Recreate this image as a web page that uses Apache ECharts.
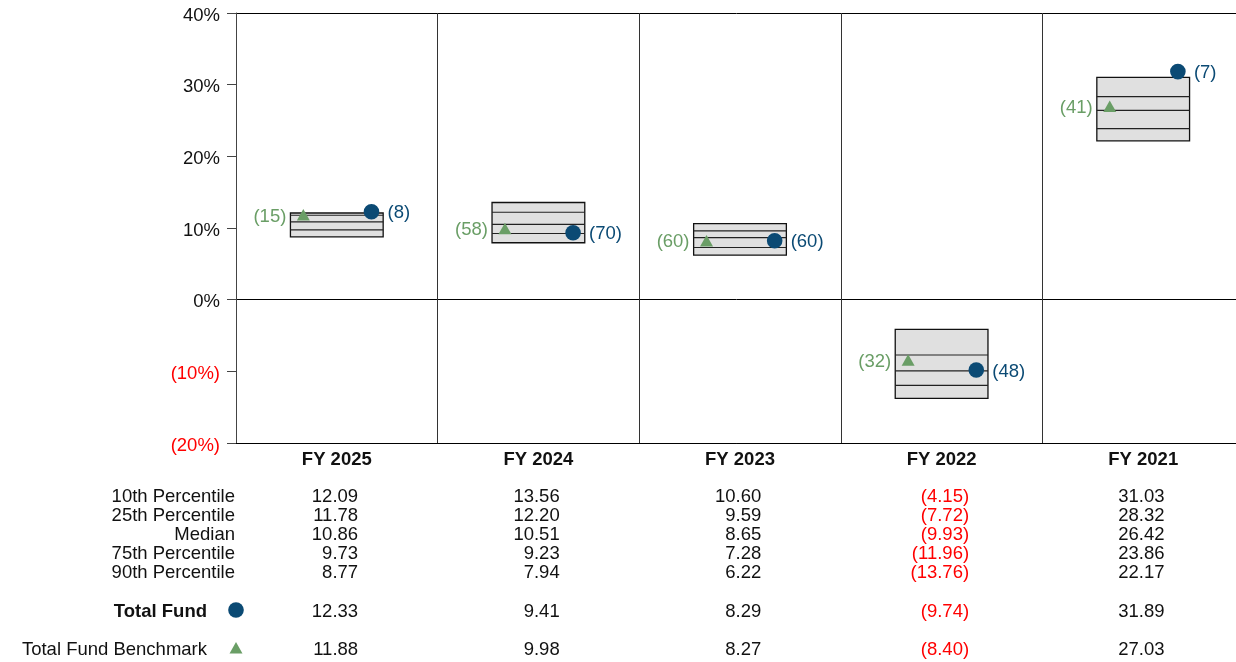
<!DOCTYPE html>
<html><head><meta charset="utf-8">
<script src="https://cdn.jsdelivr.net/npm/echarts@6/dist/echarts.min.js"></script>
<style>html,body{margin:0;padding:0;background:#fff}#c{width:1236px;height:662px}</style>
</head><body><div id="c"></div>
<script>
const categories = ['FY 2025','FY 2024','FY 2023','FY 2022','FY 2021'];
const p10 = [12.09, 13.56, 10.60, -4.15, 31.03];
const p25 = [11.78, 12.20, 9.59, -7.72, 28.32];
const median = [10.86, 10.51, 8.65, -9.93, 26.42];
const p75 = [9.73, 9.23, 7.28, -11.96, 23.86];
const p90 = [8.77, 7.94, 6.22, -13.76, 22.17];
const totalFund = [12.33, 9.41, 8.29, -9.74, 31.89];
const benchmark = [11.88, 9.98, 8.27, -8.40, 27.03];
const fundRank = [8, 70, 60, 48, 7];
const benchRank = [15, 58, 60, 32, 41];
const rowLabels = ['10th Percentile','25th Percentile','Median','75th Percentile','90th Percentile'];
const yMin = -20, yMax = 40, yStep = 10;

const FONT = "'Liberation Sans', Arial, Helvetica, sans-serif";
const FS = 18.5;
const FUND = '#0b4a74';
const BENCH = '#6a9e66';
const RED = '#ff0000';
const TY = 1.5; // text baseline nudge

function setText(o){
  if (o.align) o.textAlign = o.align;
  if (o.verticalAlign) o.textVerticalAlign = o.verticalAlign;
  return o;
}

const option = {
  animation: false,
  backgroundColor: '#fff',
  grid: { left: 236, width: 1008, top: 13, bottom: 219, outerBoundsMode: 'none', containLabel: false },
  xAxis: {
    type: 'category', data: categories, boundaryGap: true,
    axisLine: { onZero: false, lineStyle: { color: '#000', width: 1 } },
    axisTick: { show: false },
    axisLabel: { fontFamily: FONT, fontSize: FS, fontWeight: 'bold', color: '#111', margin: 7 },
    splitLine: { show: true, interval: 0, lineStyle: { color: '#333', width: 1 } }
  },
  yAxis: {
    type: 'value', min: yMin, max: yMax, interval: yStep,
    axisLine: { show: true, lineStyle: { color: '#444', width: 1 } },
    axisTick: { show: true, length: 9, lineStyle: { color: '#444' } },
    axisLabel: {
      margin: 16,
      formatter: v => v < 0 ? '{n|(' + (-v) + '%)}' : '{p|' + v + '%}',
      rich: {
        n: { color: RED, fontFamily: FONT, fontSize: FS, padding: [5, 0, 0, 0] },
        p: { color: '#111', fontFamily: FONT, fontSize: FS, padding: [5, 0, 0, 0] }
      }
    },
    splitLine: { show: true, lineStyle: { color: ['#000','rgba(0,0,0,0)','#000','rgba(0,0,0,0)','rgba(0,0,0,0)','rgba(0,0,0,0)','#000'], width: 1 } }
  },
  series: [
    {
      type: 'custom', name: 'Range', z: 2,
      encode: { x: 0, y: [1, 5] },
      data: categories.map((c, i) => [i, p10[i], p25[i], median[i], p75[i], p90[i]]),
      renderItem: (params, api) => {
        const i = api.value(0);
        const band = api.size([1, 0])[0];
        const w = band * 0.46;
        const top = api.coord([i, api.value(1)]);
        const bot = api.coord([i, api.value(5)]);
        const x0 = top[0] - w / 2;
        const children = [{
          type: 'rect',
          shape: { x: x0, y: top[1], width: w, height: bot[1] - top[1] },
          style: { fill: '#e0e0e0', stroke: '#111', lineWidth: 1.3 }
        }];
        [2, 3, 4].forEach(k => {
          const y = api.coord([i, api.value(k)])[1];
          children.push({ type: 'line', shape: { x1: x0, y1: y, x2: x0 + w, y2: y },
            style: { stroke: '#222', lineWidth: 1.2 } });
        });
        return { type: 'group', children };
      }
    },
    {
      type: 'custom', name: 'Total Fund Benchmark', z: 3,
      encode: { x: 0, y: 1 },
      data: categories.map((c, i) => [i, benchmark[i], benchRank[i]]),
      renderItem: (params, api) => {
        const i = api.value(0);
        const band = api.size([1, 0])[0];
        const p = api.coord([i, api.value(1)]);
        const cx = p[0] - band * 0.166, cy = p[1] + 0.5;
        return { type: 'group', children: [
          { type: 'polygon', shape: { points: [[cx, cy - 6], [cx - 6.5, cy + 5.5], [cx + 6.5, cy + 5.5]] },
            style: { fill: BENCH } },
          { type: 'text', style: setText({ text: '(' + api.value(2) + ')', x: cx - 17, y: cy + TY,
            align: 'right', verticalAlign: 'middle', fill: BENCH, fontFamily: FONT, fontSize: FS }) }
        ] };
      }
    },
    {
      type: 'custom', name: 'Total Fund', z: 4,
      encode: { x: 0, y: 1 },
      data: categories.map((c, i) => [i, totalFund[i], fundRank[i]]),
      renderItem: (params, api) => {
        const i = api.value(0);
        const band = api.size([1, 0])[0];
        const p = api.coord([i, api.value(1)]);
        const cx = p[0] + band * 0.172, cy = p[1] + 0.5;
        return { type: 'group', children: [
          { type: 'circle', shape: { cx, cy, r: 7.8 }, style: { fill: FUND } },
          { type: 'text', style: setText({ text: '(' + api.value(2) + ')', x: cx + 16, y: cy + TY,
            align: 'left', verticalAlign: 'middle', fill: FUND, fontFamily: FONT, fontSize: FS }) }
        ] };
      }
    }
  ]
};

const chart = echarts.init(document.getElementById('c'), null, { renderer: 'canvas' });
chart.setOption(option);

// table beneath the chart
const yBase = chart.convertToPixel({ yAxisIndex: 0 }, yMin);
const gridLeft = 236;
const rowOffsets = [52, 71, 90, 109, 128, 167, 205];
const rowsData = [p10, p25, median, p75, p90, totalFund, benchmark];
const elements = [];
rowLabels.forEach((lab, r) => {
  elements.push({ type: 'text', x: gridLeft - 1, y: yBase + rowOffsets[r] + TY,
    style: setText({ text: lab, align: 'right', verticalAlign: 'middle', fill: '#111', fontFamily: FONT, fontSize: FS }) });
});
elements.push({ type: 'text', x: gridLeft - 29, y: yBase + rowOffsets[5] + TY,
  style: setText({ text: 'Total Fund', align: 'right', verticalAlign: 'middle', fill: '#111', fontFamily: FONT, fontSize: FS, fontWeight: 'bold' }) });
elements.push({ type: 'circle', shape: { cx: gridLeft, cy: yBase + rowOffsets[5], r: 7.8 }, style: { fill: FUND } });
elements.push({ type: 'text', x: gridLeft - 29, y: yBase + rowOffsets[6] + TY,
  style: setText({ text: 'Total Fund Benchmark', align: 'right', verticalAlign: 'middle', fill: '#111', fontFamily: FONT, fontSize: FS }) });
elements.push({ type: 'polygon', shape: { points: [[gridLeft, yBase + rowOffsets[6] - 6], [gridLeft - 6.5, yBase + rowOffsets[6] + 5.5], [gridLeft + 6.5, yBase + rowOffsets[6] + 5.5]] }, style: { fill: BENCH } });

const PAREN_W = 6.2; // width of ")" at FS, for accounting-style alignment
categories.forEach((c, i) => {
  const cx = chart.convertToPixel({ xAxisIndex: 0 }, i);
  rowsData.forEach((arr, r) => {
    const v = arr[i];
    const neg = v < 0;
    elements.push({ type: 'text', x: cx + 27.5 - (neg ? 0 : PAREN_W), y: yBase + rowOffsets[r] + TY,
      style: setText({ text: neg ? '(' + Math.abs(v).toFixed(2) + ')' : v.toFixed(2),
        align: 'right', verticalAlign: 'middle', fill: neg ? RED : '#111', fontFamily: FONT, fontSize: FS }) });
  });
});
chart.setOption({ graphic: { elements } });
</script>
</body></html>
